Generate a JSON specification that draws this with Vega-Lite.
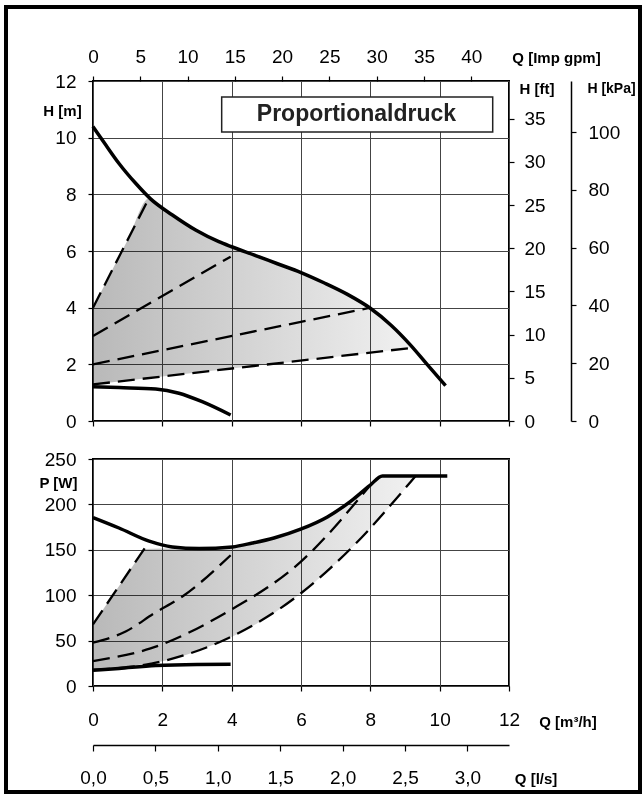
{
  "$schema": "https://vega.github.io/schema/vega-lite/v6.json",
  "padding": {"left": 3, "top": 3, "right": 2, "bottom": 3},
  "background": "white",
  "datasets": {
    "fillH": [
      {"Q": 0, "lo": 1.29, "hi": 4.0}, {"Q": 0.5, "lo": 1.36, "hi": 5.2}, {"Q": 1.0, "lo": 1.43, "hi": 6.39},
      {"Q": 1.62, "lo": 1.52, "hi": 7.86}, {"Q": 2.0, "lo": 1.57, "hi": 7.53}, {"Q": 2.5, "lo": 1.64, "hi": 7.1},
      {"Q": 3.0, "lo": 1.71, "hi": 6.71}, {"Q": 3.5, "lo": 1.78, "hi": 6.4}, {"Q": 4.0, "lo": 1.85, "hi": 6.15},
      {"Q": 4.5, "lo": 1.92, "hi": 5.92}, {"Q": 5.0, "lo": 1.99, "hi": 5.69}, {"Q": 5.5, "lo": 2.06, "hi": 5.47},
      {"Q": 6.0, "lo": 2.13, "hi": 5.24}, {"Q": 6.5, "lo": 2.2, "hi": 4.97}, {"Q": 7.0, "lo": 2.27, "hi": 4.68},
      {"Q": 7.5, "lo": 2.34, "hi": 4.35}, {"Q": 8.0, "lo": 2.41, "hi": 3.98}, {"Q": 8.5, "lo": 2.48, "hi": 3.49},
      {"Q": 9.0, "lo": 2.55, "hi": 2.88}, {"Q": 9.26, "lo": 2.59, "hi": 2.59}
    ],
    "maxH": [
      {"Q": 0, "H": 10.39}, {"Q": 0.37, "H": 9.74}, {"Q": 0.75, "H": 9.09}, {"Q": 1.23, "H": 8.39},
      {"Q": 1.66, "H": 7.84}, {"Q": 2.29, "H": 7.27}, {"Q": 2.96, "H": 6.74}, {"Q": 3.63, "H": 6.33},
      {"Q": 4.0, "H": 6.15}, {"Q": 4.69, "H": 5.84}, {"Q": 5.32, "H": 5.55}, {"Q": 6.0, "H": 5.24},
      {"Q": 6.66, "H": 4.88}, {"Q": 7.34, "H": 4.47}, {"Q": 8.0, "H": 3.98}, {"Q": 8.59, "H": 3.39},
      {"Q": 9.16, "H": 2.68}, {"Q": 9.65, "H": 1.98}, {"Q": 10.17, "H": 1.25}
    ],
    "minH": [
      {"Q": 0, "H": 1.21}, {"Q": 0.75, "H": 1.18}, {"Q": 1.81, "H": 1.13}, {"Q": 2.48, "H": 0.98},
      {"Q": 3.15, "H": 0.68}, {"Q": 3.97, "H": 0.21}
    ],
    "dashH": [
      {"s": "d1", "Q": 0, "H": 4.0}, {"s": "d1", "Q": 1.62, "H": 7.88},
      {"s": "d2", "Q": 0, "H": 3.0}, {"s": "d2", "Q": 3.97, "H": 5.8},
      {"s": "d3", "Q": 0, "H": 2.0}, {"s": "d3", "Q": 8.0, "H": 4.0},
      {"s": "d4", "Q": 0, "H": 1.29}, {"s": "d4", "Q": 9.26, "H": 2.59}
    ],
    "fillP": [
      {"Q": 0, "lo": 17.6, "hi": 67.8}, {"Q": 0.5, "lo": 19.4, "hi": 96}, {"Q": 1.0, "lo": 21.5, "hi": 124},
      {"Q": 1.48, "lo": 24.3, "hi": 151}, {"Q": 2.0, "lo": 27.2, "hi": 151.4}, {"Q": 2.5, "lo": 32, "hi": 151.4},
      {"Q": 3.0, "lo": 38.4, "hi": 151.4}, {"Q": 3.5, "lo": 46, "hi": 152}, {"Q": 4.0, "lo": 54, "hi": 153.2},
      {"Q": 4.6, "lo": 66, "hi": 157.5}, {"Q": 5.22, "lo": 80, "hi": 163}, {"Q": 5.99, "lo": 101.9, "hi": 172.7},
      {"Q": 6.4, "lo": 114.5, "hi": 179.3}, {"Q": 6.76, "lo": 126.5, "hi": 186.2}, {"Q": 7.1, "lo": 138.5, "hi": 194.2},
      {"Q": 7.43, "lo": 151, "hi": 203.4}, {"Q": 7.72, "lo": 162, "hi": 212}, {"Q": 7.99, "lo": 173, "hi": 221},
      {"Q": 8.35, "lo": 189, "hi": 231.3}, {"Q": 8.8, "lo": 208, "hi": 231.3}, {"Q": 9.16, "lo": 224.7, "hi": 231.3},
      {"Q": 9.3, "lo": 231, "hi": 231.3}
    ],
    "maxP": [
      {"Q": 0, "P": 185.5}, {"Q": 0.75, "P": 174}, {"Q": 1.62, "P": 159.5}, {"Q": 2.29, "P": 153.2},
      {"Q": 3.06, "P": 151.4}, {"Q": 4.02, "P": 153.2}, {"Q": 4.6, "P": 157.5}, {"Q": 5.22, "P": 163},
      {"Q": 5.99, "P": 172.7}, {"Q": 6.76, "P": 186.2}, {"Q": 7.43, "P": 203.4}, {"Q": 7.99, "P": 221},
      {"Q": 8.35, "P": 231.3}, {"Q": 10.22, "P": 231.3}
    ],
    "minP": [
      {"Q": 0, "P": 17.3}, {"Q": 0.75, "P": 19.4}, {"Q": 1.81, "P": 22.5}, {"Q": 3.0, "P": 23.8}, {"Q": 3.97, "P": 24.0}
    ],
    "dashP": [
      {"s": "d1", "Q": 0, "P": 67.8}, {"s": "d1", "Q": 1.62, "P": 159},
      {"s": "d2", "Q": 0, "P": 47.7}, {"s": "d2", "Q": 0.94, "P": 60}, {"s": "d2", "Q": 1.76, "P": 79.9}, {"s": "d2", "Q": 2.63, "P": 100}, {"s": "d2", "Q": 3.97, "P": 144},
      {"s": "d3", "Q": 0, "P": 27.5}, {"s": "d3", "Q": 1.66, "P": 41.4}, {"s": "d3", "Q": 3.88, "P": 81.7}, {"s": "d3", "Q": 5.99, "P": 136.7}, {"s": "d3", "Q": 7.95, "P": 219},
      {"s": "d4", "Q": 0, "P": 17.6}, {"s": "d4", "Q": 1.95, "P": 26.8}, {"s": "d4", "Q": 3.88, "P": 52.4}, {"s": "d4", "Q": 5.99, "P": 101.9}, {"s": "d4", "Q": 7.53, "P": 155}, {"s": "d4", "Q": 9.16, "P": 224.7}, {"s": "d4", "Q": 9.3, "P": 231}
    ]
  },
  "spacing": 38,
  "bounds": "flush",
  "vconcat": [
    {
      "width": 416,
      "height": 340,
      "layer": [
        {
          "data": {"name": "fillH"},
          "mark": {"type": "area", "orient": "vertical", "interpolate": "monotone", "blend": "multiply",
            "fill": {"gradient": "linear", "x1": 0, "y1": 0, "x2": 1, "y2": 0,
              "stops": [{"offset": 0, "color": "#b9b9b9"}, {"offset": 1, "color": "#f1f1f1"}]}},
          "encoding": {
            "x": {"field": "Q", "type": "quantitative", "scale": {"domain": [0, 12], "nice": false},
              "axis": {"orient": "bottom", "values": [0, 2, 4, 6, 8, 10, 12], "labels": false, "grid": true, "title": null, "domain": false}},
            "y": {"field": "hi", "type": "quantitative", "scale": {"domain": [0, 12], "nice": false},
              "axis": {"orient": "left", "values": [0, 2, 4, 6, 8, 10, 12], "grid": true, "domain": false,
                "title": "H [m]", "titleX": -31, "titleY": 29, "titleAlign": "center", "titleBaseline": "middle", "labelPadding": 12}},
            "y2": {"field": "lo"}
          }
        },
        {
          "data": {"name": "dashH"},
          "mark": {"type": "line", "color": "#000", "strokeWidth": 2.3, "strokeDash": [17, 8]},
          "encoding": {
            "x": {"field": "Q", "type": "quantitative", "axis": null},
            "y": {"field": "H", "type": "quantitative", "axis": null},
            "detail": {"field": "s"}
          }
        },
        {
          "data": {"name": "maxH"},
          "mark": {"type": "line", "color": "#000", "strokeWidth": 3.5, "interpolate": "monotone"},
          "encoding": {
            "x": {"field": "Q", "type": "quantitative", "axis": null},
            "y": {"field": "H", "type": "quantitative", "axis": null}
          }
        },
        {
          "data": {"name": "minH"},
          "mark": {"type": "line", "color": "#000", "strokeWidth": 3.5, "interpolate": "monotone"},
          "encoding": {
            "x": {"field": "Q", "type": "quantitative", "axis": null},
            "y": {"field": "H", "type": "quantitative", "axis": null}
          }
        },
        {
          "data": {"values": [{}]},
          "mark": {"type": "rect", "fill": "white", "stroke": "#222", "strokeWidth": 1.5},
          "encoding": {
            "x": {"datum": 3.712, "type": "quantitative", "axis": null},
            "x2": {"datum": 11.53},
            "y": {"datum": 11.435, "type": "quantitative", "axis": null},
            "y2": {"datum": 10.2}
          }
        },
        {
          "data": {"values": [{}]},
          "mark": {"type": "text", "text": "Proportionaldruck", "fontSize": 23, "fontWeight": "bold", "color": "#222", "font": "Liberation Sans", "align": "center", "baseline": "middle"},
          "encoding": {
            "x": {"datum": 7.6, "type": "quantitative", "axis": null},
            "y": {"datum": 10.82, "type": "quantitative", "axis": null}
          }
        },
        {
          "data": {"values": [{}]},
          "mark": {"type": "rect", "fill": "transparent", "stroke": "#000", "strokeWidth": 4},
          "encoding": {
            "x": {"datum": -2.5096, "type": "quantitative", "axis": null},
            "x2": {"datum": 15.779},
            "y": {"datum": 14.612, "type": "quantitative", "axis": null},
            "y2": {"datum": -13.094}
          }
        },
        {
          "data": {"values": [{}]},
          "mark": {"type": "point", "opacity": 0},
          "encoding": {
            "x": {"datum": 0, "type": "quantitative",
              "axis": {"orient": "top", "values": [0, 1.36383, 2.72766, 4.09149, 5.45532, 6.81915, 8.18298, 9.54681, 10.91064],
                "labelExpr": "format(datum.value * 3.66615, '.0f')", "grid": false, "domain": false,
                "title": "Q [Imp gpm]", "titleX": 463, "titleY": -24, "titleAlign": "center", "titleBaseline": "middle", "labelPadding": 10}},
            "y": {"datum": 0, "type": "quantitative",
              "axis": {"orient": "right", "values": [0, 1.524, 3.048, 4.572, 6.096, 7.62, 9.144, 10.668],
                "labelExpr": "format(datum.value * 3.28084, '.0f')", "grid": false, "domain": false,
                "title": "H [ft]", "titleX": 27.5, "titleY": 7.5, "titleAlign": "center", "titleBaseline": "middle", "labelPadding": 10}}
          }
        },
        {
          "data": {"values": [{}]},
          "mark": {"type": "point", "opacity": 0},
          "encoding": {
            "x": {"datum": 0, "type": "quantitative", "axis": null},
            "y": {"datum": 0, "type": "quantitative",
              "axis": {"orient": "right", "offset": 62, "values": [0, 2.03943, 4.07886, 6.11829, 8.15772, 10.19716],
                "labelExpr": "format(datum.value * 9.80665, '.0f')", "grid": false, "domain": true,
                "title": "H [kPa]", "titleX": 40, "titleY": 7.5, "titleAlign": "center", "titleBaseline": "middle", "titleFontSize": 14, "labelPadding": 12}}
          }
        }
      ],
      "resolve": {"axis": {"x": "independent", "y": "independent"}}
    },
    {
      "width": 416,
      "height": 227,
      "layer": [
        {
          "data": {"name": "fillP"},
          "mark": {"type": "area", "orient": "vertical", "interpolate": "linear", "blend": "multiply",
            "fill": {"gradient": "linear", "x1": 0, "y1": 0, "x2": 1, "y2": 0,
              "stops": [{"offset": 0, "color": "#b9b9b9"}, {"offset": 1, "color": "#f1f1f1"}]}},
          "encoding": {
            "x": {"field": "Q", "type": "quantitative", "scale": {"domain": [0, 12], "nice": false},
              "axis": {"orient": "bottom", "values": [0, 2, 4, 6, 8, 10, 12], "grid": true, "domain": false,
                "title": "Q [m³/h]", "titleX": 474.5, "titleY": 35, "titleAlign": "center", "titleBaseline": "middle", "labelPadding": 19}},
            "y": {"field": "hi", "type": "quantitative", "scale": {"domain": [0, 250], "nice": false},
              "axis": {"orient": "left", "values": [0, 50, 100, 150, 200, 250], "grid": true, "domain": false,
                "title": "P [W]", "titleX": -35, "titleY": 23, "titleAlign": "center", "titleBaseline": "middle", "labelPadding": 12}},
            "y2": {"field": "lo"}
          }
        },
        {
          "data": {"name": "dashP"},
          "mark": {"type": "line", "color": "#000", "strokeWidth": 2.3, "strokeDash": [17, 8], "interpolate": "monotone"},
          "encoding": {
            "x": {"field": "Q", "type": "quantitative", "axis": null},
            "y": {"field": "P", "type": "quantitative", "axis": null},
            "detail": {"field": "s"}
          }
        },
        {
          "data": {"name": "maxP"},
          "mark": {"type": "line", "color": "#000", "strokeWidth": 3.5, "interpolate": "monotone"},
          "encoding": {
            "x": {"field": "Q", "type": "quantitative", "axis": null},
            "y": {"field": "P", "type": "quantitative", "axis": null}
          }
        },
        {
          "data": {"name": "minP"},
          "mark": {"type": "line", "color": "#000", "strokeWidth": 3.5, "interpolate": "monotone"},
          "encoding": {
            "x": {"field": "Q", "type": "quantitative", "axis": null},
            "y": {"field": "P", "type": "quantitative", "axis": null}
          }
        },
        {
          "data": {"values": [{}]},
          "mark": {"type": "point", "opacity": 0},
          "encoding": {
            "x": {"datum": 0, "type": "quantitative",
              "axis": {"orient": "bottom", "offset": 59, "values": [0, 1.8, 3.6, 5.4, 7.2, 9.0, 10.8], "grid": false, "domain": true,
                "labelExpr": "replace(format(datum.value / 3.6, '.1f'), '.', ',')", "tickSize": 6,
                "title": "Q [l/s]", "titleX": 442.6, "titleY": 33, "titleAlign": "center", "titleBaseline": "middle", "labelPadding": 17}},
            "y": {"datum": 0, "type": "quantitative", "axis": null}
          }
        }
      ],
      "resolve": {"axis": {"x": "independent", "y": "independent"}}
    }
  ],
  "config": {
    "font": "Liberation Sans",
    "view": {"stroke": "#000", "strokeWidth": 2},
    "axis": {
      "labelFont": "Liberation Sans", "labelFontSize": 19, "labelColor": "#000",
      "titleFont": "Liberation Sans", "titleFontSize": 15, "titleFontWeight": "bold", "titleColor": "#000",
      "domainColor": "#000", "domainWidth": 1.5, "tickColor": "#000", "tickWidth": 1.2, "tickSize": 5,
      "gridColor": "#444", "gridWidth": 1, "gridOpacity": 1, "labelFlush": false, "labelOverlap": false, "titleAngle": 0
    }
  }
}
